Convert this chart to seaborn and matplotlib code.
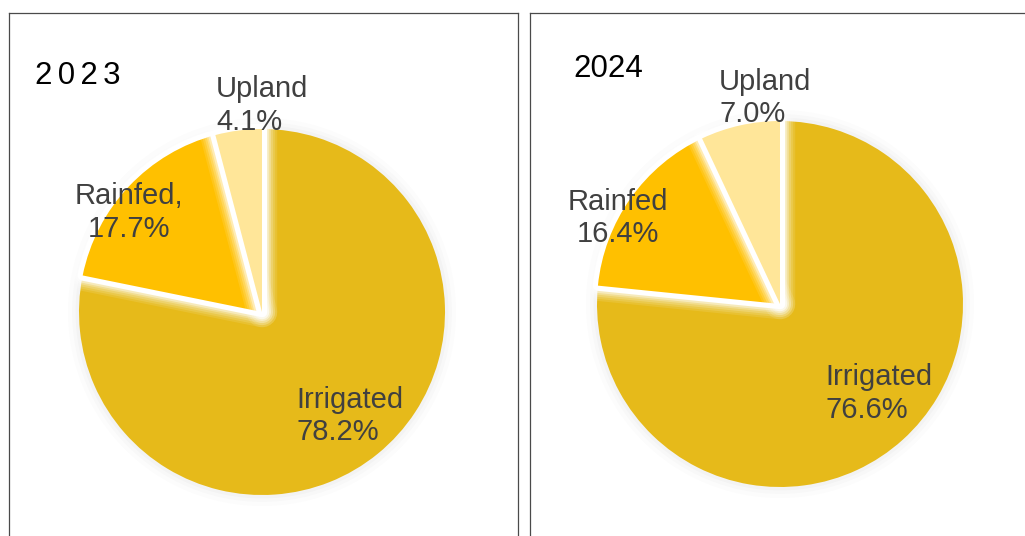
import matplotlib
matplotlib.use("Agg")
import matplotlib.pyplot as plt
from matplotlib.patches import Wedge, Circle
import seaborn as sns

# ---- data ----
years = ["2023", "2024"]
categories = ["Irrigated", "Rainfed", "Upland"]
shares_2023 = [78.2, 17.7, 4.1]
shares_2024 = [76.6, 16.4, 7.0]
names_2023 = ["Irrigated", "Rainfed,", "Upland"]
names_2024 = ["Irrigated", "Rainfed", "Upland"]
year_titles = ["2\u20060\u20062\u20063", "2024"]

sns.set_theme(style="white")
plt.rcParams["font.family"] = ["Liberation Sans", "DejaVu Sans"]

palette = sns.color_palette(["#E6BA1A", "#FFC000", "#FFE699"])
TEXT = "#404040"

W, H, DPI = 1025, 536, 100
fig = plt.figure(figsize=(W / DPI, H / DPI), dpi=DPI)
fig.patch.set_facecolor("white")


def px_box(left, top, right, bottom):
    return [left / W, 1 - bottom / H, (right - left) / W, (bottom - top) / H]


# panel frames
for l, r in [(9, 518), (530, 1040)]:
    fr = fig.add_axes(px_box(l, 13, r, 580))
    fr.set_xticks([])
    fr.set_yticks([])
    fr.set_facecolor("white")
    for s in fr.spines.values():
        s.set_color("#4a4a4a")
        s.set_linewidth(0.9)

R = 183            # pie radius in pixels
HALF = 1.25 * R


def pie_axes(cx, cy):
    ax = fig.add_axes(px_box(cx - HALF, cy - HALF, cx + HALF, cy + HALF))
    ax.set_xlim(-1.25, 1.25)
    ax.set_ylim(-1.25, 1.25)
    ax.set_aspect("equal")
    ax.axis("off")
    ax.patch.set_alpha(0)
    return ax


def add_glow(ax, w, z):
    layers = [(22, 0.1), (19, 0.13), (16, 0.18), (13, 0.25), (10.5, 0.4), (7.5, 1.0)]
    for lw, a in layers:
        ax.add_patch(Wedge(w.center, w.r, w.theta1, w.theta2,
                           facecolor="none", edgecolor="white",
                           linewidth=lw, alpha=a, joinstyle="round",
                           zorder=z))


def draw_pie(ax, values, names, label_layout):
    # faint halo around the disc
    for lw, a in [(16, 0.012), (10, 0.015), (5, 0.02)]:
        ax.add_patch(Circle((0, 0), 1.0, facecolor="none", edgecolor="black",
                            linewidth=lw, alpha=a, zorder=0))
    wedges, _ = ax.pie(values, colors=palette, startangle=90,
                       counterclock=False, radius=1.0,
                       wedgeprops=dict(linewidth=0))
    ax.set_xlim(-1.25, 1.25)
    ax.set_ylim(-1.25, 1.25)
    wedges[0].set_zorder(1)
    for i, w in enumerate(wedges[1:], start=1):
        add_glow(ax, w, 2 * i)
        w.set_zorder(2 * i + 1)
    for v, n, (x, y, ha) in zip(values, names, label_layout):
        ax.text(x, y, f"{n}\n{v:.1f}%", ha=ha, va="center", multialignment=ha,
                fontsize=21, color=TEXT, linespacing=1.22, zorder=10)


ax1 = pie_axes(262, 312)
draw_pie(ax1, shares_2023, names_2023,
         [(0.19, -0.568, "left"), (-0.727, 0.546, "center"), (-0.25, 1.13, "left")])

ax2 = pie_axes(780, 304)
draw_pie(ax2, shares_2024, names_2024,
         [(0.25, -0.49, "left"), (-0.888, 0.47, "center"), (-0.333, 1.126, "left")])

fig.text(35 / W, 1 - 76 / H, year_titles[0], ha="left", va="center",
         fontsize=22.5, color="black")
fig.text(573 / W, 1 - 69 / H, year_titles[1], ha="left", va="center",
         fontsize=22.5, color="black")

fig.savefig("out.png", dpi=DPI, facecolor="white")
